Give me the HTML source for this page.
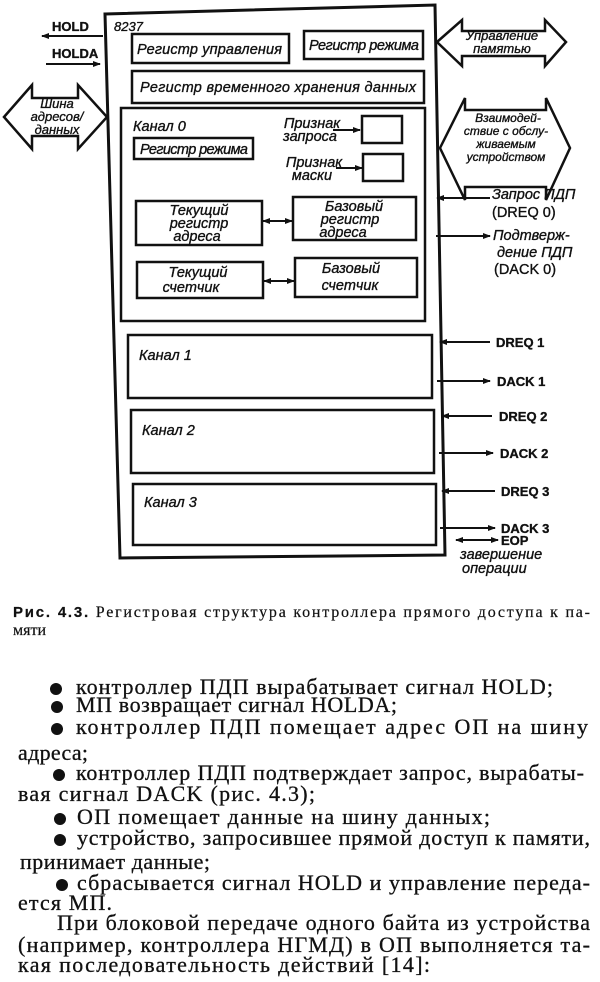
<!DOCTYPE html>
<html><head><meta charset="utf-8"><style>
html,body{margin:0;padding:0;background:#fff;}
svg{display:block}
.d{font-family:"Liberation Sans",sans-serif;font-style:italic;font-size:14.5px;fill:#111;stroke:#111;stroke-width:0.35;}
.t{font-family:"Liberation Serif",serif;font-size:22px;fill:#111;stroke:#111;stroke-width:0.3;}
.c{font-family:"Liberation Serif",serif;font-size:16px;fill:#111;stroke:#111;stroke-width:0.2;}
</style></head><body>
<svg width="600" height="982" viewBox="0 0 600 982" xmlns="http://www.w3.org/2000/svg">
<defs><marker id="a" markerWidth="8" markerHeight="8" refX="7" refY="4" orient="auto" markerUnits="userSpaceOnUse"><path d="M0,1 L8,4 L0,7 Z" fill="#111"/></marker>
<marker id="b" markerWidth="8" markerHeight="8" refX="1" refY="4" orient="auto" markerUnits="userSpaceOnUse"><path d="M8,1 L0,4 L8,7 Z" fill="#111"/></marker></defs>
<g fill="none" stroke="#111" stroke-width="2.5">
<polygon points="105,14 435,5 445,555 120,558" stroke-width="3"/>
<rect x="132" y="34" width="157" height="29"/>
<rect x="304" y="31" width="119" height="28"/>
<rect x="132" y="71" width="292" height="32"/>
<rect x="121" y="108" width="304" height="213"/>
<rect x="134" y="138" width="119" height="21"/>
<rect x="362" y="116" width="40" height="27"/>
<rect x="363" y="154" width="40" height="27"/>
<rect x="136" y="201" width="126" height="44"/>
<rect x="293" y="197" width="123" height="43"/>
<rect x="137" y="262" width="126" height="36"/>
<rect x="295" y="258" width="122" height="39"/>
<rect x="128" y="335" width="304" height="63"/>
<rect x="131" y="410" width="303" height="63"/>
<rect x="133" y="484" width="303" height="61"/>
<polygon points="4,117 32,85 32,98 78,98 78,85 107,117 78,149 78,136 32,136 32,149"/>
<polygon points="437,42 462,20 462,31 545,31 545,20 566,42 545,66 545,56 462,56 462,66"/>
<polygon points="440,148 465,98 465,110 546,110 546,98 570,148 546,200 546,187 465,187 465,200"/>
</g>
<g stroke="#111" stroke-width="2" fill="none">
<line x1="103" y1="36" x2="42" y2="36" marker-end="url(#a)"/>
<line x1="46" y1="64" x2="100" y2="64" marker-end="url(#a)"/>
<line x1="333" y1="130" x2="360" y2="130" marker-end="url(#a)"/>
<line x1="336" y1="168" x2="362" y2="168" marker-end="url(#a)"/>
<line x1="263" y1="221" x2="292" y2="221" marker-end="url(#a)" marker-start="url(#b)"/>
<line x1="264" y1="281" x2="294" y2="281" marker-end="url(#a)" marker-start="url(#b)"/>
<line x1="490" y1="198" x2="437" y2="198" marker-end="url(#a)"/>
<line x1="436" y1="236" x2="490" y2="236" marker-end="url(#a)"/>
<line x1="490" y1="342" x2="440" y2="342" marker-end="url(#a)"/>
<line x1="437" y1="381" x2="490" y2="381" marker-end="url(#a)"/>
<line x1="492" y1="416" x2="442" y2="416" marker-end="url(#a)"/>
<line x1="439" y1="453" x2="493" y2="453" marker-end="url(#a)"/>
<line x1="495" y1="491" x2="442" y2="491" marker-end="url(#a)"/>
<line x1="440" y1="528" x2="495" y2="528" marker-end="url(#a)"/>
<line x1="456" y1="540" x2="498" y2="540" marker-end="url(#a)" marker-start="url(#b)"/>
</g>
<g class="d">
<text x="52" y="31" font-style="normal" font-weight="bold" font-size="13">HOLD</text>
<text x="52" y="58" font-style="normal" font-weight="bold" font-size="13">HOLDA</text>
<text x="114" y="31" font-size="13">8237</text>
<text x="137" y="54" textLength="145">Регистр управления</text>
<text x="309" y="50" textLength="110">Регистр режима</text>
<text x="140" y="92" textLength="276">Регистр временного хранения данных</text>
<text x="133" y="131">Канал 0</text>
<text x="140" y="154" textLength="108">Регистр режима</text>
<text x="312" y="128" text-anchor="middle">Признак</text>
<text x="310" y="141" text-anchor="middle">запроса</text>
<text x="314" y="167" text-anchor="middle">Признак</text>
<text x="312" y="180" text-anchor="middle">маски</text>
<text x="199" y="215" text-anchor="middle">Текущий</text>
<text x="199" y="228" text-anchor="middle">регистр</text>
<text x="197" y="241" text-anchor="middle">адреса</text>
<text x="354" y="211" text-anchor="middle">Базовый</text>
<text x="350" y="224" text-anchor="middle">регистр</text>
<text x="343" y="237" text-anchor="middle">адреса</text>
<text x="198" y="277" text-anchor="middle">Текущий</text>
<text x="191" y="292" text-anchor="middle">счетчик</text>
<text x="351" y="273" text-anchor="middle">Базовый</text>
<text x="350" y="290" text-anchor="middle">счетчик</text>
<text x="139" y="360">Канал 1</text>
<text x="142" y="435">Канал 2</text>
<text x="144" y="507">Канал 3</text>
<text x="57" y="108" text-anchor="middle" font-size="13">Шина</text>
<text x="57" y="121" text-anchor="middle" font-size="13">адресов/</text>
<text x="57" y="134" text-anchor="middle" font-size="13">данных</text>
<text x="502" y="40" text-anchor="middle" font-size="13">Управление</text>
<text x="502" y="53" text-anchor="middle" font-size="13">памятью</text>
<text x="508" y="122" text-anchor="middle" font-size="12">Взаимодей-</text>
<text x="506" y="135" text-anchor="middle" font-size="12">ствие с обслу-</text>
<text x="506" y="148" text-anchor="middle" font-size="12">живаемым</text>
<text x="506" y="161" text-anchor="middle" font-size="12">устройством</text>
<text x="492" y="199">Запрос ПДП</text>
<text x="492" y="217" font-style="normal">(DREQ 0)</text>
<text x="493" y="240">Подтверж-</text>
<text x="497" y="257">дение ПДП</text>
<text x="494" y="274" font-style="normal">(DACK 0)</text>
<g font-style="normal" font-weight="bold" font-size="13">
<text x="496" y="347">DREQ 1</text>
<text x="497" y="386">DACK 1</text>
<text x="499" y="421">DREQ 2</text>
<text x="500" y="458">DACK 2</text>
<text x="501" y="496">DREQ 3</text>
<text x="501" y="533">DACK 3</text>
<text x="501" y="545">EOP</text>
</g>
<text x="460" y="559">завершение</text>
<text x="462" y="573">операции</text>
</g>
<text class="c" x="13" y="617" textLength="577"><tspan font-family="Liberation Sans" font-weight="bold" font-size="15">Рис. 4.3.</tspan> Регистровая структура контроллера прямого доступа к па-</text>
<text class="c" x="13" y="635">мяти</text>
<g fill="#111">
<circle cx="56" cy="689" r="6"/><circle cx="57" cy="707" r="6"/><circle cx="57" cy="729" r="6"/>
<circle cx="59" cy="775" r="6"/><circle cx="60" cy="819" r="6"/><circle cx="60" cy="840" r="6"/><circle cx="62" cy="885" r="6"/>
</g>
<g class="t">
<text x="76" y="694" textLength="477">контроллер ПДП вырабатывает сигнал HOLD;</text>
<text x="76" y="712" textLength="321">МП возвращает сигнал HOLDA;</text>
<text x="76" y="734" textLength="512">контроллер ПДП помещает адрес ОП на шину</text>
<text x="18" y="760" textLength="70">адреса;</text>
<text x="76" y="780" textLength="508">контроллер ПДП подтверждает запрос, вырабаты-</text>
<text x="18" y="801" textLength="297">вая сигнал DACK (рис. 4.3);</text>
<text x="77" y="824" textLength="413">ОП помещает данные на шину данных;</text>
<text x="77" y="845" textLength="513">устройство, запросившее прямой доступ к памяти,</text>
<text x="20" y="869" textLength="190">принимает данные;</text>
<text x="77" y="890" textLength="513">сбрасывается сигнал HOLD и управление переда-</text>
<text x="18" y="910" textLength="94">ется МП.</text>
<text x="57" y="930" textLength="533">При блоковой передаче одного байта из устройства</text>
<text x="18" y="952" textLength="572">(например, контроллера НГМД) в ОП выполняется та-</text>
<text x="18" y="972" textLength="412">кая последовательность действий [14]:</text>
</g>
</svg>
</body></html>
